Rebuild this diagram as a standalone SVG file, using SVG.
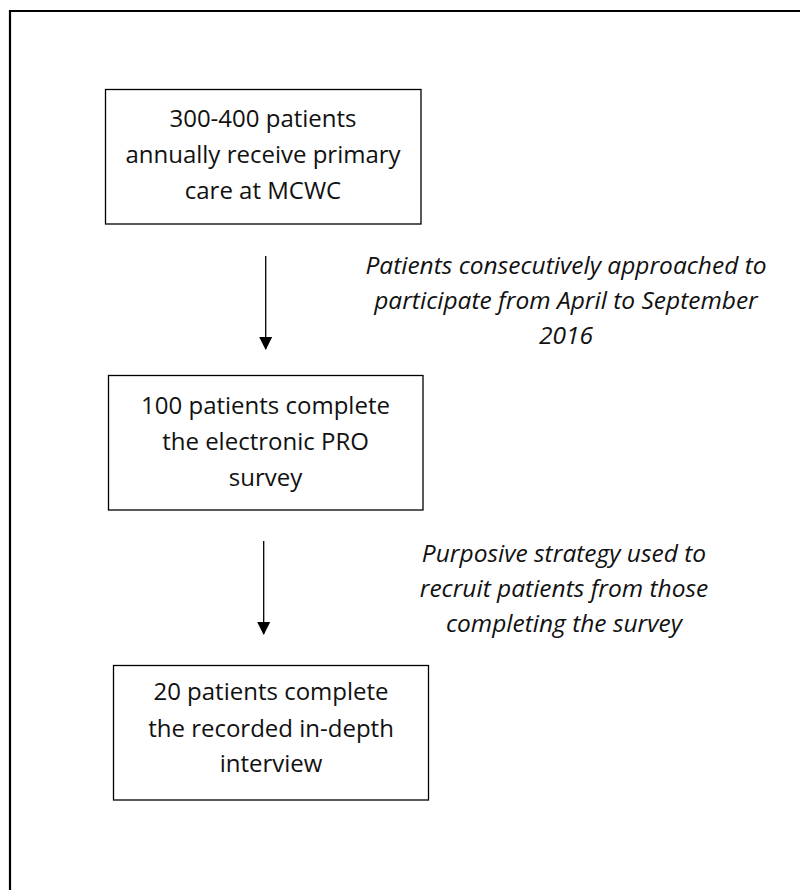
<svg xmlns="http://www.w3.org/2000/svg" width="800" height="890" viewBox="0 0 800 890">
<style>
.box{fill:#fff;stroke:#000;stroke-width:1.3}
.t{font-family:"Open Sans","Liberation Sans",sans-serif;font-size:24px;fill:#111;text-anchor:middle}
.i{font-family:"Open Sans","Liberation Sans",sans-serif;font-size:24.5px;font-style:italic;fill:#111;text-anchor:middle}
.c{stroke:#000;stroke-width:1.3;fill:none}
</style>
<defs>
<marker id="ah" markerWidth="14" markerHeight="14" refX="12" refY="7" orient="auto" markerUnits="userSpaceOnUse">
<path d="M0,0.5 L13,7 L0,13.5 Z" fill="#000"/>
</marker>
</defs>
<rect width="800" height="890" fill="#fff"/>
<path d="M10,890 V11 H800" fill="none" stroke="#000" stroke-width="2.2"/>
<g id="n1">
<rect class="box" x="105.5" y="89.5" width="315.5" height="134.5"/>
<text class="t" x="263" y="127">300-400 patients</text>
<text class="t" x="263" y="163">annually receive primary</text>
<text class="t" x="263" y="199">care at MCWC</text>
</g>
<g id="n2">
<rect class="box" x="108.5" y="375.5" width="314.5" height="134.5"/>
<text class="t" x="265.5" y="414">100 patients complete</text>
<text class="t" x="265.5" y="450">the electronic PRO</text>
<text class="t" x="265.5" y="486">survey</text>
</g>
<g id="n3">
<rect class="box" x="113.5" y="665.5" width="315" height="134.5"/>
<text class="t" x="271" y="700">20 patients complete</text>
<text class="t" x="271" y="737">the recorded in-depth</text>
<text class="t" x="271" y="772">interview</text>
</g>
<g id="connectors">
<line class="c" x1="265.7" y1="256" x2="265.7" y2="349" marker-end="url(#ah)"/>
<line class="c" x1="263.7" y1="541" x2="263.7" y2="634" marker-end="url(#ah)"/>
</g>
<g id="labels">
<text class="i" x="566" y="274">Patients consecutively approached to</text>
<text class="i" x="566" y="309">participate from April to September</text>
<text class="i" x="566" y="344">2016</text>
<text class="i" x="564" y="562">Purposive strategy used to</text>
<text class="i" x="564" y="597">recruit patients from those</text>
<text class="i" x="564" y="632">completing the survey</text>
</g>
</svg>
